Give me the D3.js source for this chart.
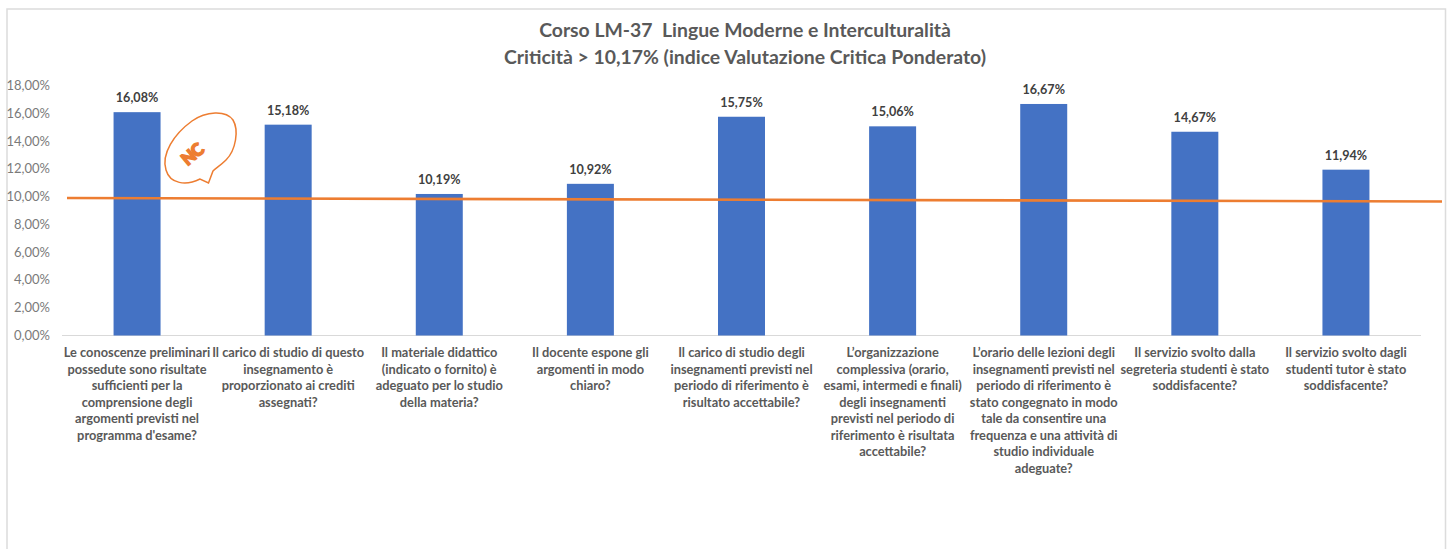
<!DOCTYPE html>
<html><head><meta charset="utf-8">
<script src="https://cdn.jsdelivr.net/npm/d3@7/dist/d3.min.js"></script>
<style>html,body{margin:0;padding:0;background:#fff}svg{display:block}text{font-family:Lato,Carlito,"Open Sans",sans-serif}</style>
</head><body><svg id="c" width="1450" height="549"></svg>
<script>
const titleLines = ["Corso LM-37  Lingue Moderne e Interculturalità", "Criticità > 10,17% (indice Valutazione Critica Ponderato)"];
const categories = ["q1","q2","q3","q4","q5","q6","q7","q8","q9"];
const values = [16.08,15.18,10.19,10.92,15.75,15.06,16.67,14.67,11.94];
const tickValues = [0,2,4,6,8,10,12,14,16,18];
const trendValues = [9.90,9.65];
const labelLines = [
 ["Le conoscenze preliminari","possedute sono risultate","sufficienti per la","comprensione degli","argomenti previsti nel","programma d'esame?"],
 ["Il carico di studio di questo","insegnamento è","proporzionato ai crediti","assegnati?"],
 ["Il materiale didattico","(indicato o fornito) è","adeguato per lo studio","della materia?"],
 ["Il docente espone gli","argomenti in modo","chiaro?"],
 ["Il carico di studio degli","insegnamenti previsti nel","periodo di riferimento è","risultato accettabile?"],
 ["L’organizzazione","complessiva (orario,","esami, intermedi e finali)","degli insegnamenti","previsti nel periodo di","riferimento è risultata","accettabile?"],
 ["L’orario delle lezioni degli","insegnamenti previsti nel","periodo di riferimento è","stato congegnato in modo","tale da consentire una","frequenza e una attività di","studio individuale","adeguate?"],
 ["Il servizio svolto dalla","segreteria studenti è stato","soddisfacente?"],
 ["Il servizio svolto dagli","studenti tutor è stato","soddisfacente?"]
];
const fmt = v => v.toFixed(2).replace(".", ",") + "%";
const svg = d3.select("#c");
const x = d3.scaleBand().domain(categories).range([61.5,1421.5]).paddingInner(0.689).paddingOuter(0.3445);
const y = d3.scaleLinear().domain([0,18]).range([335.5,85.5]);
const trendX = d3.scaleLinear().domain([0,1]).range([67,1442]);

// frame
svg.append("path").attr("d","M7,549V9H1445.5V549").attr("fill","none").attr("stroke","#dcdcdc").attr("stroke-width",1.5);

// title
svg.append("g").selectAll("text").data(titleLines).join("text")
 .attr("x",745).attr("y",(d,i)=>37+i*26.5).attr("text-anchor","middle")
 .attr("font-size",19.4).attr("font-weight",700).attr("fill","#595959")
 .style("white-space","pre").text(d=>d);

// y ticks
svg.append("g").selectAll("text").data(tickValues).join("text")
 .attr("x",50).attr("y",d=>y(d)+4.5).attr("text-anchor","end")
 .attr("font-size",13).attr("fill","#7a7a7a").text(d=>fmt(d));

// baseline
svg.append("line").attr("x1",62).attr("x2",1421).attr("y1",y(0)).attr("y2",y(0)).attr("stroke","#d9d9d9").attr("stroke-width",1.2);

// bars
svg.append("g").selectAll("rect").data(values).join("rect")
 .attr("x",(d,i)=>x(categories[i])).attr("width",x.bandwidth())
 .attr("y",d=>y(d)).attr("height",d=>y(0)-y(d)).attr("fill","#4472c4");

// data labels
svg.append("g").selectAll("text").data(values).join("text")
 .attr("x",(d,i)=>x(categories[i])+x.bandwidth()/2).attr("y",d=>y(d)-10)
 .attr("text-anchor","middle").attr("font-size",12.6).attr("font-weight",700).attr("fill","#404040").text(d=>fmt(d));

// category labels
const g = svg.append("g");
labelLines.forEach((lines,i)=>{
 g.append("text").attr("font-size",12.8).attr("font-weight",700).attr("fill","#595959").attr("text-anchor","middle")
  .selectAll("tspan").data(lines).join("tspan")
  .attr("x",x(categories[i])+x.bandwidth()/2).attr("y",(d,j)=>357+j*16.55).text(d=>d);
});

// trend line
svg.append("path").datum(trendValues)
 .attr("d",d3.line().x((d,i)=>trendX(i)).y(d=>y(d)))
 .attr("fill","none").attr("stroke","#ed7d31").attr("stroke-width",2.6);

// speech bubble annotation
svg.append("path")
 .attr("d","M200,179 C186,186 170,184 166,170 C161,154 174,134 192,121 C206,111 226,110 233,120 C239,130 236,150 226,160 C221,165 216,168 213,171 L208.5,183 Z")
 .attr("fill","none").attr("stroke","#ed7d31").attr("stroke-width",1.5);
svg.append("text").attr("transform","translate(196,159) rotate(-40)").attr("text-anchor","middle")
 .attr("font-size",17).attr("font-weight",900).attr("letter-spacing",-1).attr("stroke","#ed7d31").attr("stroke-width",1.6).attr("fill","#ed7d31").text("NC");
</script></body></html>
